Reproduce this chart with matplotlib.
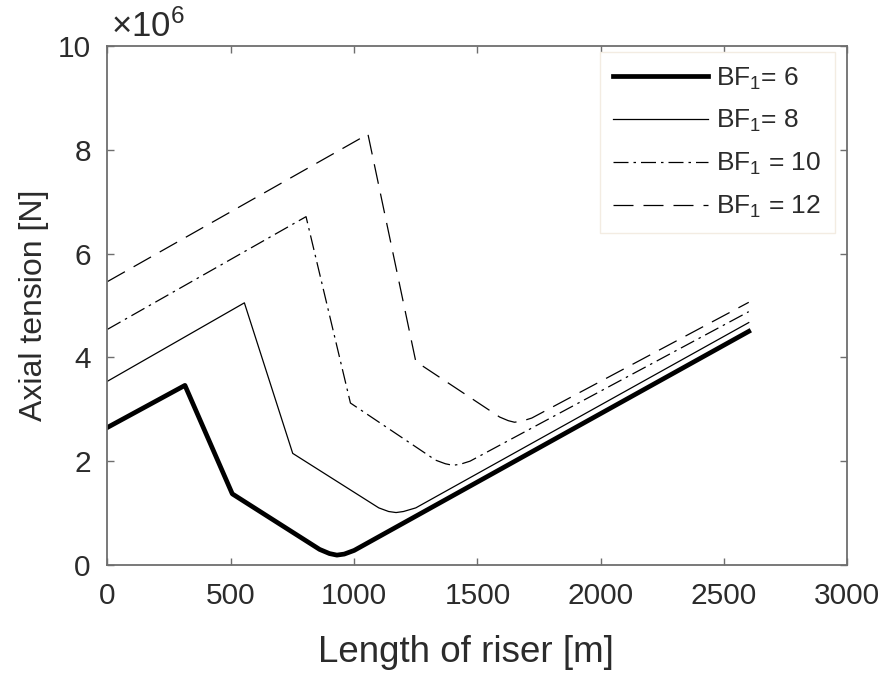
import matplotlib
matplotlib.use("Agg")
import matplotlib.pyplot as plt

plt.rcParams['font.family'] = ['Liberation Sans', 'DejaVu Sans']
plt.rcParams['mathtext.default'] = 'regular'

# riser length [m] and axial tension [x 1e6 N]
x_bf6 = [0, 314, 506, 860, 900, 930, 960, 1000, 2600]
t_bf6 = [2.65, 3.46, 1.37, 0.30, 0.22, 0.19, 0.21, 0.28, 4.50]

x_bf8 = [0, 555, 751, 1100, 1140, 1170, 1200, 1250, 2600]
t_bf8 = [3.54, 5.05, 2.15, 1.10, 1.03, 1.01, 1.03, 1.10, 4.67]

x_bf10 = [0, 805, 985, 1330, 1370, 1400, 1430, 1470, 2600]
t_bf10 = [4.54, 6.71, 3.12, 2.02, 1.95, 1.92, 1.94, 2.00, 4.88]

x_bf12 = [0, 1056, 1250, 1590, 1625, 1650, 1680, 1720, 2600]
t_bf12 = [5.46, 8.30, 3.92, 2.85, 2.78, 2.75, 2.77, 2.83, 5.06]

labels = [r'BF$_1$= 6', r'BF$_1$= 8', r'BF$_1$ = 10', r'BF$_1$ = 12']

axis_col = '#6e6e6e'
text_col = '#2b2b2b'

fig = plt.figure(figsize=(8.84, 6.75), dpi=100)
ax = fig.add_axes([0.1216, 0.163, 0.837, 0.769])

scale = 1e6
ax.plot(x_bf6, [v * scale for v in t_bf6], color='black', lw=3.4, label=labels[0],
        solid_joinstyle='round')
ax.plot(x_bf8, [v * scale for v in t_bf8], color='black', lw=0.9, label=labels[1])
ax.plot(x_bf10, [v * scale for v in t_bf10], color='black', lw=0.9,
        linestyle=(0, (12, 4, 2, 4)), label=labels[2])
ax.plot(x_bf12, [v * scale for v in t_bf12], color='black', lw=0.9,
        linestyle=(0, (16, 8)), label=labels[3])

ax.set_xlim(0, 3000)
ax.set_ylim(0, 10e6)
ax.set_xticks(range(0, 3001, 500))
ax.set_yticks([i * 2e6 for i in range(6)])
ax.set_yticklabels([str(i * 2) for i in range(6)])

ax.tick_params(direction='in', top=True, right=True, length=5, width=1,
               colors=axis_col, labelcolor=text_col, labelsize=21.5, pad=12)
for sp in ax.spines.values():
    sp.set_color(axis_col)
    sp.set_linewidth(1.3)

ax.set_xlabel('Length of riser [m]', fontsize=26.5, color=text_col)
ax.xaxis.set_label_coords(0.485, -0.135)
ax.set_ylabel('Axial tension [N]', fontsize=23, color=text_col, labelpad=6)
ax.text(0.005, 1.005, r'$\times$10$^6$', transform=ax.transAxes, fontsize=25,
        color=text_col, ha='left', va='bottom')

leg = ax.legend(loc='upper right', bbox_to_anchor=(0.983, 0.988), fontsize=19,
                handlelength=3.6, labelspacing=0.63, handletextpad=0.3,
                borderpad=0.5, borderaxespad=0, fancybox=False, framealpha=1,
                labelcolor=text_col)
leg.get_frame().set_edgecolor('#f3ece2')
leg.get_frame().set_linewidth(1.0)

fig.savefig('out.png', dpi=100)
